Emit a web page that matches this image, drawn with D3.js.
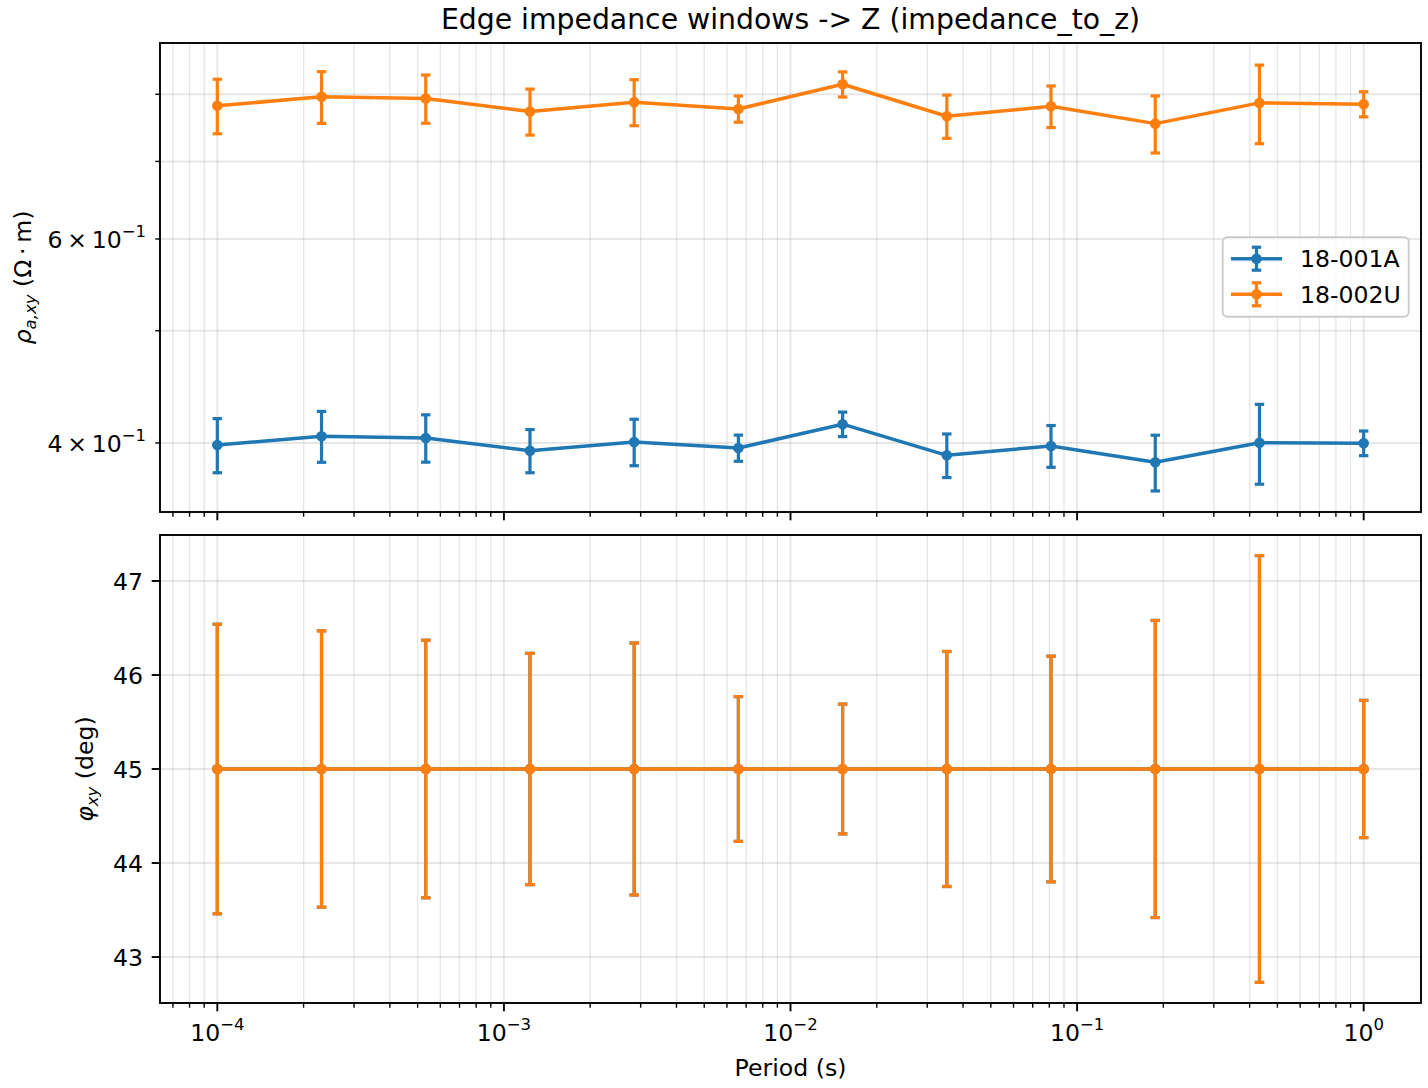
<!DOCTYPE html>
<html>
<head>
<meta charset="utf-8">
<script src="https://cdn.jsdelivr.net/npm/d3@7"></script>
<style>
  html, body { margin: 0; padding: 0; background: #fff; }
  svg { display: block; font-family: "DejaVu Sans", sans-serif; }
</style>
</head>
<body>
<svg id="chart" width="1428" height="1088"></svg>
<script>
// ---------------- DATA ----------------
const periods = [1.0e-4, 2.310e-4, 5.337e-4, 1.233e-3, 2.848e-3, 6.579e-3,
                 1.520e-2, 3.511e-2, 8.111e-2, 1.874e-1, 4.329e-1, 1.0];
const seriesNames = ["18-001A", "18-002U"];
const rhoA    = [0.3984, 0.4054, 0.4040, 0.3939, 0.4008, 0.3960, 0.4152, 0.3903, 0.3976, 0.3849, 0.4002, 0.3998];
const rhoAErr = [0.0214, 0.0205, 0.0190, 0.0169, 0.0185, 0.0103, 0.0101, 0.0169, 0.0165, 0.0213, 0.0317, 0.0098];
const rhoU    = [0.7819, 0.7959, 0.7932, 0.7729, 0.7875, 0.7770, 0.8160, 0.7658, 0.7810, 0.7546, 0.7864, 0.7844];
const rhoUErr = [0.0423, 0.0409, 0.0380, 0.0353, 0.0360, 0.0202, 0.0204, 0.0329, 0.0323, 0.0428, 0.0613, 0.0196];
const phaseA  = [45, 45, 45, 45, 45, 45, 45, 45, 45, 45, 45, 45];
const phaseU  = [45, 45, 45, 45, 45, 45, 45, 45, 45, 45, 45, 45];
const phaseErr = [1.54, 1.47, 1.37, 1.23, 1.34, 0.77, 0.69, 1.25, 1.20, 1.58, 2.27, 0.73];

const xMajorTicks = [1e-4, 1e-3, 1e-2, 1e-1, 1];
const xTickExponents = ["\u22124", "\u22123", "\u22122", "\u22121", "0"];
const rhoTicks = [0.4, 0.5, 0.6, 0.7, 0.8];
const rhoTickMantissa = {0.4: "4", 0.6: "6"};
const phaseTicks = [43, 44, 45, 46, 47];

const titleText = "Edge impedance windows -> Z (impedance_to_z)";
const xLabelText = "Period (s)";
const colors = ["#1f77b4", "#ff7f0e"];

// ---------------- LAYOUT ----------------
const L = 160, R = 1421;
const topP = {y0: 43, y1: 512};
const botP = {y0: 535, y1: 1003};
const FS = 23.6;       // base font px
const SUP = 16.5;      // superscript px

const svg = d3.select("#chart");

const x = d3.scaleLog().domain([Math.pow(10, -4.2), Math.pow(10, 0.2)]).range([L, R]);
const yTop = d3.scaleLog().domain([0.3487, 0.8858]).range([topP.y1, topP.y0]);
const yBot = d3.scaleLinear().domain([42.511, 47.489]).range([botP.y1, botP.y0]);

const isDecade = t => Math.abs(Math.log10(t) - Math.round(Math.log10(t))) < 1e-6;
const xMinor = x.ticks().filter(t => !isDecade(t));

function drawGrid(g, y0, y1, yTicks, yScale) {
  const gg = g.append("g").attr("class", "grid");
  xMinor.concat(xMajorTicks).forEach(t => {
    gg.append("line").attr("x1", x(t)).attr("x2", x(t)).attr("y1", y0).attr("y2", y1)
      .attr("stroke", "#b0b0b0").attr("stroke-opacity", 0.3)
      .attr("stroke-width", isDecade(t) ? 1.9 : 1.4);
  });
  yTicks.forEach(t => {
    gg.append("line").attr("x1", L).attr("x2", R).attr("y1", yScale(t)).attr("y2", yScale(t))
      .attr("stroke", "#b0b0b0").attr("stroke-opacity", 0.3).attr("stroke-width", 1.9);
  });
}

function drawSeries(g, xs, ys, errs, yScale, color) {
  const sg = g.append("g");
  // error bars
  xs.forEach((p, i) => {
    const cx = x(p), yt = yScale(ys[i] + errs[i]), yb = yScale(ys[i] - errs[i]);
    sg.append("line").attr("x1", cx).attr("x2", cx).attr("y1", yt).attr("y2", yb)
      .attr("stroke", color).attr("stroke-width", 3.2);
    [yt, yb].forEach(yy => {
      sg.append("line").attr("x1", cx - 4.7).attr("x2", cx + 4.7).attr("y1", yy).attr("y2", yy)
        .attr("stroke", color).attr("stroke-width", 3.2);
    });
  });
  const line = d3.line().x(d => x(d[0])).y(d => yScale(d[1]));
  sg.append("path").datum(xs.map((p, i) => [p, ys[i]]))
    .attr("d", line).attr("fill", "none").attr("stroke", color)
    .attr("stroke-width", 3.5).attr("stroke-linejoin", "round");
  sg.selectAll("circle.m").data(xs.map((p, i) => [p, ys[i]])).enter().append("circle")
    .attr("cx", d => x(d[0])).attr("cy", d => yScale(d[1])).attr("r", 5.3)
    .attr("fill", color);
}

function drawXTicks(g, yBase, withLabels) {
  xMajorTicks.forEach((t, i) => {
    g.append("line").attr("x1", x(t)).attr("x2", x(t)).attr("y1", yBase).attr("y2", yBase + 8.3)
      .attr("stroke", "#000").attr("stroke-width", 1.9);
    if (withLabels) {
      const tx = g.append("text").attr("x", x(t)).attr("y", yBase + 38).attr("text-anchor", "middle")
        .attr("font-size", FS).attr("fill", "#000");
      tx.append("tspan").text("10");
      tx.append("tspan").attr("font-size", SUP).attr("dy", -11).text(xTickExponents[i]);
    }
  });
  xMinor.forEach(t => {
    g.append("line").attr("x1", x(t)).attr("x2", x(t)).attr("y1", yBase).attr("y2", yBase + 4.7)
      .attr("stroke", "#000").attr("stroke-width", 1.4);
  });
}

function drawFrame(g, y0, y1) {
  g.append("rect").attr("x", L).attr("y", y0).attr("width", R - L).attr("height", y1 - y0)
    .attr("fill", "none").attr("stroke", "#000").attr("stroke-width", 1.9);
}

// ---------------- TOP PANEL ----------------
const gTop = svg.append("g");
drawGrid(gTop, topP.y0, topP.y1, rhoTicks, yTop);
drawSeries(gTop, periods, rhoA, rhoAErr, yTop, colors[0]);
drawSeries(gTop, periods, rhoU, rhoUErr, yTop, colors[1]);
rhoTicks.forEach(t => {
  gTop.append("line").attr("x1", L - 4.7).attr("x2", L).attr("y1", yTop(t)).attr("y2", yTop(t))
    .attr("stroke", "#000").attr("stroke-width", 1.4);
  if (rhoTickMantissa[t]) {
    const tx = gTop.append("text").attr("x", L - 14).attr("y", yTop(t) + 8.6)
      .attr("text-anchor", "end").attr("font-size", FS).attr("fill", "#000");
    tx.append("tspan").text(rhoTickMantissa[t] + "\u2009\u00d7\u200910");
    tx.append("tspan").attr("font-size", SUP).attr("dy", -11).text("\u22121");
  }
});
drawXTicks(gTop, topP.y1, false);
drawFrame(gTop, topP.y0, topP.y1);

// y label top
{
  const tl = gTop.append("text").attr("transform", `translate(30.5,${(topP.y0 + topP.y1) / 2}) rotate(-90)`)
    .attr("text-anchor", "middle").attr("font-size", FS).attr("fill", "#000");
  tl.append("tspan").attr("font-style", "italic").text("\u03c1");
  tl.append("tspan").attr("font-style", "italic").attr("font-size", SUP).attr("dy", 5).text("a,xy");
  tl.append("tspan").attr("dy", -5).text(" (\u03a9\u2009\u00b7\u2009m)");
}

// legend
{
  const lg = gTop.append("g");
  lg.append("rect").attr("x", 1222.7).attr("y", 237.3).attr("width", 186).attr("height", 79.4)
    .attr("rx", 4.7).attr("fill", "#fff").attr("fill-opacity", 0.8)
    .attr("stroke", "#cccccc").attr("stroke-width", 1.9);
  const rowsY = [258.7, 294.3];
  seriesNames.forEach((name, i) => {
    const cy = rowsY[i], c = colors[i];
    lg.append("line").attr("x1", 1256.5).attr("x2", 1256.5).attr("y1", cy - 11.5).attr("y2", cy + 11.5)
      .attr("stroke", c).attr("stroke-width", 3.2);
    [cy - 11.5, cy + 11.5].forEach(yy => lg.append("line").attr("x1", 1251.8).attr("x2", 1261.2)
      .attr("y1", yy).attr("y2", yy).attr("stroke", c).attr("stroke-width", 3.2));
    lg.append("line").attr("x1", 1231).attr("x2", 1282).attr("y1", cy).attr("y2", cy)
      .attr("stroke", c).attr("stroke-width", 3.5);
    lg.append("circle").attr("cx", 1256.5).attr("cy", cy).attr("r", 5.3).attr("fill", c);
    lg.append("text").attr("x", 1300).attr("y", cy + 8.6).attr("font-size", FS).attr("fill", "#000").text(name);
  });
}

// ---------------- BOTTOM PANEL ----------------
const gBot = svg.append("g");
drawGrid(gBot, botP.y0, botP.y1, phaseTicks, yBot);
drawSeries(gBot, periods, phaseA, phaseErr, yBot, colors[0]);
drawSeries(gBot, periods, phaseU, phaseErr, yBot, colors[1]);
phaseTicks.forEach(t => {
  gBot.append("line").attr("x1", L - 8.3).attr("x2", L).attr("y1", yBot(t)).attr("y2", yBot(t))
    .attr("stroke", "#000").attr("stroke-width", 1.9);
  gBot.append("text").attr("x", L - 17).attr("y", yBot(t) + 8.6).attr("text-anchor", "end")
    .attr("font-size", FS).attr("fill", "#000").text(t);
});
drawXTicks(gBot, botP.y1, true);
drawFrame(gBot, botP.y0, botP.y1);

{
  const bl = gBot.append("text").attr("transform", `translate(93,${(botP.y0 + botP.y1) / 2}) rotate(-90)`)
    .attr("text-anchor", "middle").attr("font-size", FS).attr("fill", "#000");
  bl.append("tspan").attr("font-style", "italic").text("\u03c6");
  bl.append("tspan").attr("font-style", "italic").attr("font-size", SUP).attr("dy", 5).text("xy");
  bl.append("tspan").attr("dy", -5).text(" (deg)");
}

// x label and title
svg.append("text").attr("x", (L + R) / 2).attr("y", 1076).attr("text-anchor", "middle")
  .attr("font-size", FS).attr("fill", "#000").text(xLabelText);
svg.append("text").attr("x", (L + R) / 2).attr("y", 29).attr("text-anchor", "middle")
  .attr("font-size", 28.3).attr("fill", "#000").text(titleText);
</script>
</body>
</html>
